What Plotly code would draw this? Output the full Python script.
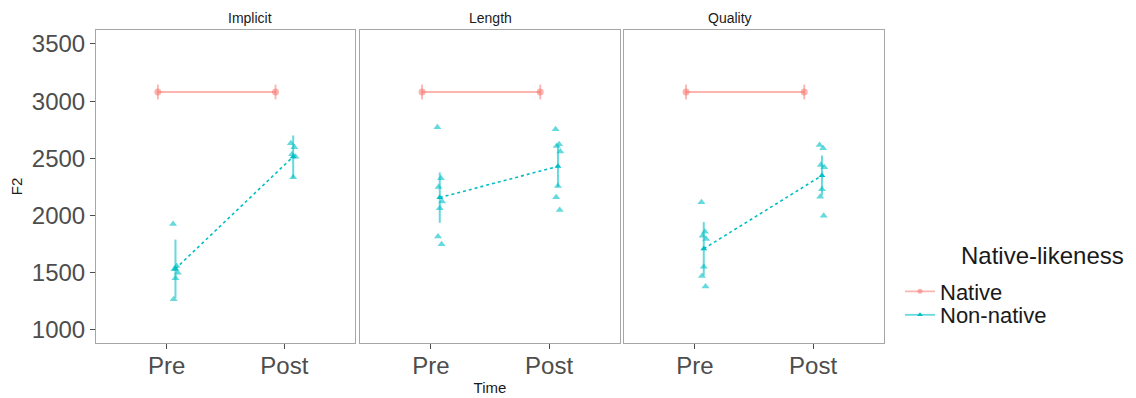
import plotly.graph_objects as go

# ---- data ----
conditions = ["Implicit", "Length", "Quality"]
time_labels = ["Pre", "Post"]

native_mean = [[3080, 3080], [3080, 3080], [3080, 3080]]
native_err = [[65, 65], [65, 65], [65, 65]]

nonnative_mean = [[1535, 2515], [2157, 2430], [1710, 2350]]
nonnative_err = [[255, 185], [220, 180], [233, 175]]

implicit_pre = [1927, 1560, 1530, 1500, 1452, 1268]
implicit_post = [2632, 2597, 2536, 2515, 2335]
length_pre = [2772, 2326, 2250, 2122, 2064, 1816, 1749]
length_post = [2754, 2623, 2608, 2559, 2259, 2160, 2049]
quality_pre = [2116, 1859, 1824, 1795, 1553, 1472, 1379]
quality_post = [2617, 2588, 2442, 2422, 2230, 2165, 1999]
raw_points = [[implicit_pre, implicit_post], [length_pre, length_post], [quality_pre, quality_post]]

# small horizontal jitter (x units)
jitter = [-0.02, 0.01, -0.01, 0.02, 0.0, -0.015, 0.015]

NATIVE_A = "rgba(248,118,109,0.55)"
NONNAT = "#00BFC4"
NONNAT_A = "rgba(0,191,196,0.6)"
DODGE = 0.075

fig = go.Figure()

for i, cond in enumerate(conditions):
    sfx = "" if i == 0 else str(i + 1)
    xa, ya = "x" + sfx, "y" + sfx
    fig.add_trace(go.Scatter(
        x=[1 - DODGE, 2 - DODGE], y=native_mean[i],
        mode="lines+markers", xaxis=xa, yaxis=ya,
        line=dict(color=NATIVE_A, width=1.8),
        marker=dict(color=NATIVE_A, size=7, symbol="circle"),
        error_y=dict(type="data", array=native_err[i], color=NATIVE_A, thickness=1.8, width=0),
        showlegend=False, hoverinfo="skip"))
    for t in range(2):
        pts = raw_points[i][t]
        fig.add_trace(go.Scatter(
            x=[t + 1 + DODGE + jitter[k % len(jitter)] for k in range(len(pts))], y=pts,
            mode="markers", xaxis=xa, yaxis=ya,
            marker=dict(color=NONNAT_A, size=7, symbol="triangle-up"),
            showlegend=False, hoverinfo="skip"))
    fig.add_trace(go.Scatter(
        x=[1 + DODGE, 2 + DODGE], y=nonnative_mean[i],
        mode="lines+markers", xaxis=xa, yaxis=ya,
        line=dict(color=NONNAT, width=1.6, dash="dot"),
        marker=dict(color=NONNAT, size=6, symbol="triangle-up"),
        error_y=dict(type="data", array=nonnative_err[i], color=NONNAT_A, thickness=2, width=0),
        showlegend=False, hoverinfo="skip"))

fig.add_trace(go.Scatter(x=[None], y=[None], mode="lines+markers", name="Native",
                         line=dict(color=NATIVE_A, width=1.8), legend="legend",
                         marker=dict(color=NATIVE_A, size=5, symbol="circle")))
fig.add_trace(go.Scatter(x=[None], y=[None], mode="lines+markers", name="Non-native",
                         line=dict(color=NONNAT_A, width=1.8), legend="legend2",
                         marker=dict(color=NONNAT, size=5, symbol="triangle-up")))

# figure coordinates (page has an 8px body margin)
W, H = 1128, 390
L, R, T, B = 88, 876, 22, 335
pw, ph = R - L, B - T
panels_px = [(88, 347), (352, 612), (616, 876)]
doms = [[(a - L) / pw, (b - L) / pw] for a, b in panels_px]

def px_x(x):
    return (x - L) / pw

def px_y(y):
    return (B - y) / ph

axis_common = dict(showgrid=False, zeroline=False, showline=True, mirror=True,
                   linecolor="#A6A6A6", linewidth=1, automargin=False)
leg_common = dict(font=dict(size=22, color="#1A1A1A"), xanchor="left", yanchor="middle",
                  bgcolor="rgba(0,0,0,0)", itemwidth=30, borderwidth=0)
layout = dict(
    width=W, height=H, plot_bgcolor="white", paper_bgcolor="white",
    margin=dict(l=L, r=W - R, t=T, b=H - B, autoexpand=False),
    font=dict(family="Liberation Sans, Arial, sans-serif", color="#4D4D4D"),
    legend=dict(leg_common, x=px_x(892), y=px_y(283.5)),
    legend2=dict(leg_common, x=px_x(892), y=px_y(307)),
)
for i in range(3):
    sfx = "" if i == 0 else str(i + 1)
    layout["xaxis" + sfx] = dict(
        axis_common, domain=doms[i], range=[0.4, 2.6], tickvals=[1, 2], ticktext=time_labels,
        ticks="outside", ticklen=5, tickcolor="#4D4D4D", ticklabelstandoff=-4,
        tickfont=dict(size=24, color="#4D4D4D"), anchor="y" + sfx,
        title=dict(text="Time" if i == 1 else "", font=dict(size=15, color="#1A1A1A"), standoff=4))
    layout["yaxis" + sfx] = dict(
        axis_common, domain=[0, 1], range=[886, 3622], anchor="x" + sfx,
        tickvals=[1000, 1500, 2000, 2500, 3000, 3500] if i == 0 else [],
        ticks="outside" if i == 0 else "", ticklen=5, tickcolor="#4D4D4D",
        showticklabels=(i == 0), tickfont=dict(size=24, color="#4D4D4D"),
        title=dict(text="F2" if i == 0 else "", font=dict(size=15, color="#1A1A1A"), standoff=6))
fig.update_layout(**layout)

for i, cond in enumerate(conditions):
    fig.add_annotation(text=cond, x=(doms[i][0] + doms[i][1]) / 2, y=px_y(10),
                       xref="paper", yref="paper", showarrow=False,
                       font=dict(size=14, color="#1A1A1A"), yanchor="middle")

fig.add_annotation(text="Native-likeness", x=px_x(951), y=px_y(247),
                   xref="paper", yref="paper", showarrow=False, xanchor="left", yanchor="middle",
                   font=dict(size=24, color="#1A1A1A"))

fig.write_html("out.html")
